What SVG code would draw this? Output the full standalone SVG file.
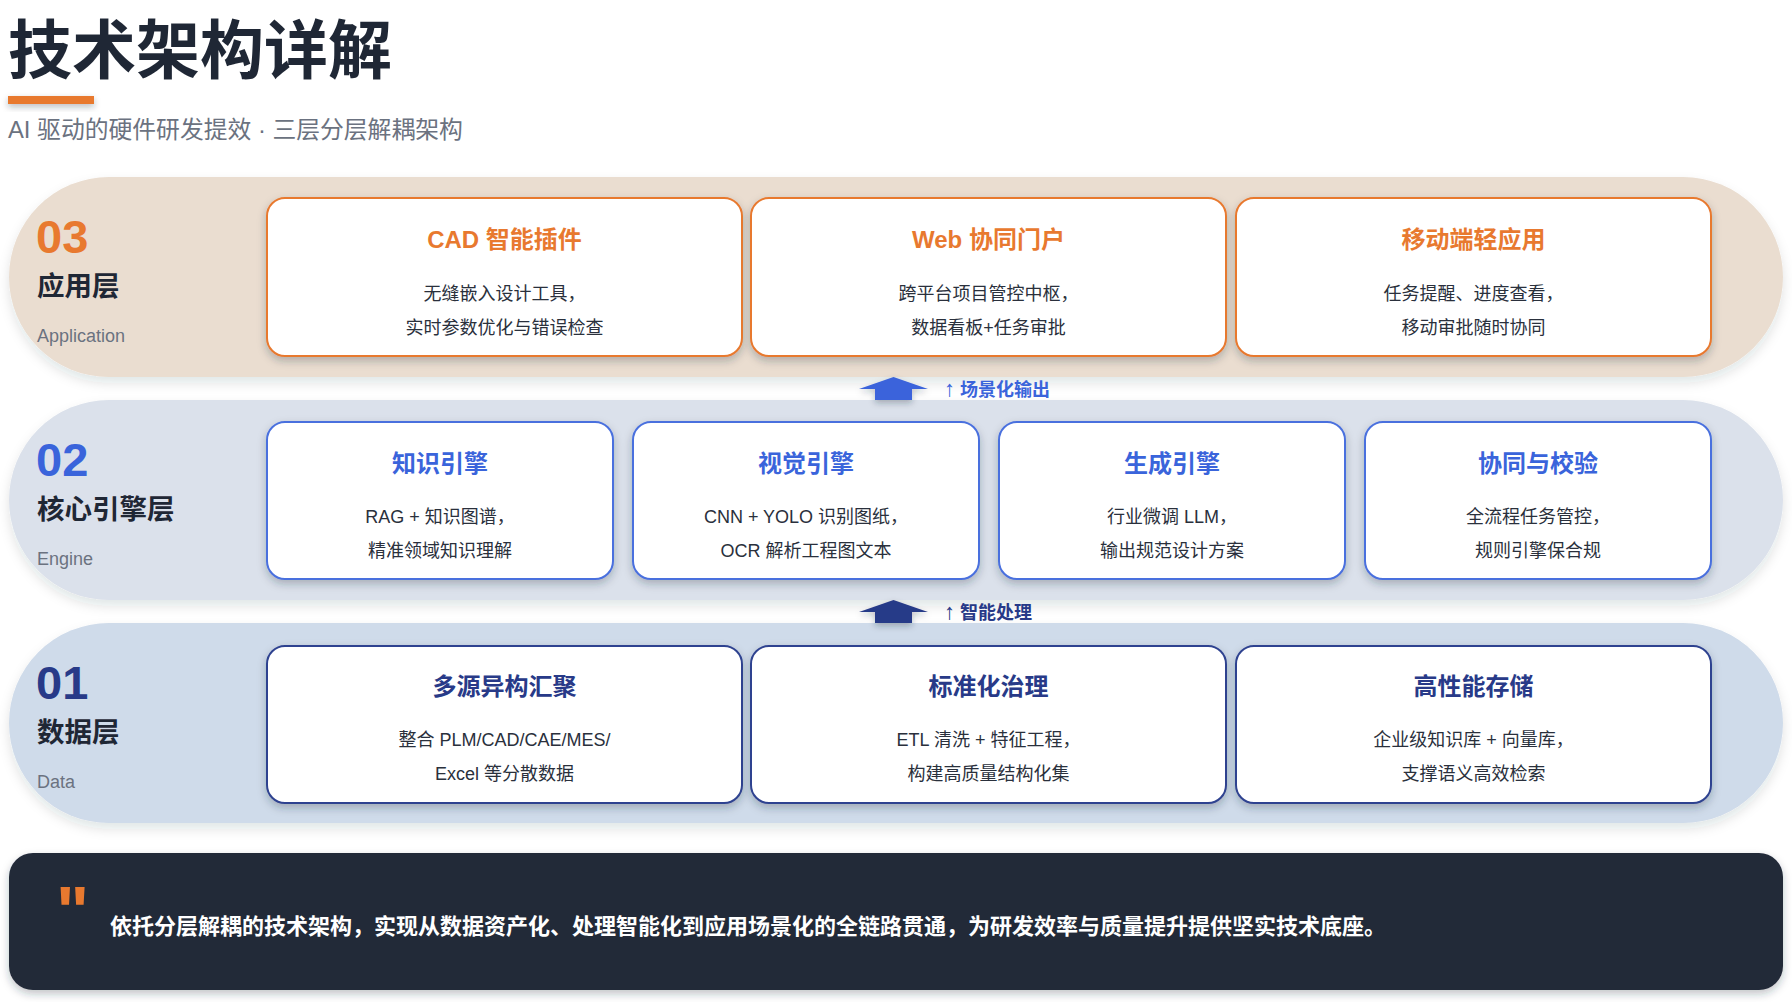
<svg xmlns="http://www.w3.org/2000/svg" width="1792" height="1002" viewBox="0 0 1792 1002">
<defs>
<filter id="bandShadow" x="-5%" y="-20%" width="110%" height="150%">
<feDropShadow dx="0" dy="6" stdDeviation="6" flood-color="#1f2937" flood-opacity="0.12"/>
</filter>
<filter id="cardShadow" x="-10%" y="-10%" width="120%" height="130%">
<feDropShadow dx="0" dy="4" stdDeviation="4" flood-color="#1f2937" flood-opacity="0.28"/>
</filter>
<filter id="smallShadow" x="-20%" y="-50%" width="140%" height="250%">
<feDropShadow dx="0" dy="3" stdDeviation="3" flood-color="#1f2937" flood-opacity="0.3"/>
</filter>
<style>
text{font-family:"Liberation Sans","Noto Sans CJK SC",sans-serif;}
.title{font-size:64px;font-weight:700;fill:#1f2735;}
.subtitle{font-size:23.8px;fill:#6b7280;}
.num{font-size:47px;font-weight:700;}
.lname{font-size:27.5px;font-weight:700;fill:#1f2735;}
.lsub{font-size:18px;fill:#6b7280;}
.card{fill:#ffffff;stroke-width:2;}
.ctitle{font-size:24px;font-weight:700;text-anchor:middle;}
.cdesc{font-size:18px;fill:#2a303c;text-anchor:middle;}
.flow{font-size:18px;font-weight:700;}
.arr{font-size:22px;}
.orange{fill:#e8792f;}
.blue{fill:#3a64db;}
.navy{fill:#283a88;}
.so{stroke:#e8792f;}
.sb{stroke:#4a70de;}
.sn{stroke:#2f4390;}
</style>
</defs>
<rect width="1792" height="1002" fill="#ffffff"/>

<g id="header">
<text class="title" x="8" y="73">技术架构详解</text>
<rect x="8" y="96" width="86" height="8" fill="#e8792f" filter="url(#smallShadow)"/>
<text class="subtitle" x="8" y="138">AI 驱动的硬件研发提效 · 三层分层解耦架构</text>
</g>

<g id="layer-03">
<rect x="9" y="177" width="1774" height="200" rx="100" fill="#eaddd0" filter="url(#bandShadow)"/>
<text class="num orange" x="36" y="253">03</text>
<text class="lname" x="37" y="296">应用层</text>
<text class="lsub" x="37" y="342">Application</text>
</g>
<g id="node-cad">
<rect class="card so" x="267" y="198" width="475" height="158" rx="18" filter="url(#cardShadow)"/>
<text class="ctitle orange" x="504.5" y="248">CAD 智能插件</text>
<text class="cdesc" x="504.5" y="300">无缝嵌入设计工具，</text>
<text class="cdesc" x="504.5" y="334">实时参数优化与错误检查</text>
</g>
<g id="node-web">
<rect class="card so" x="751" y="198" width="475" height="158" rx="18" filter="url(#cardShadow)"/>
<text class="ctitle orange" x="988.5" y="248">Web 协同门户</text>
<text class="cdesc" x="988.5" y="300">跨平台项目管控中枢，</text>
<text class="cdesc" x="988.5" y="334">数据看板+任务审批</text>
</g>
<g id="node-mobile">
<rect class="card so" x="1236" y="198" width="475" height="158" rx="18" filter="url(#cardShadow)"/>
<text class="ctitle orange" x="1473.5" y="248">移动端轻应用</text>
<text class="cdesc" x="1473.5" y="300">任务提醒、进度查看，</text>
<text class="cdesc" x="1473.5" y="334">移动审批随时协同</text>
</g>

<g id="layer-02">
<rect x="9" y="400" width="1774" height="200" rx="100" fill="#dbe1eb" filter="url(#bandShadow)"/>
<text class="num blue" x="36" y="476">02</text>
<text class="lname" x="37" y="519">核心引擎层</text>
<text class="lsub" x="37" y="565">Engine</text>
</g>
<g id="node-knowledge">
<rect class="card sb" x="267" y="422" width="346" height="157" rx="18" filter="url(#cardShadow)"/>
<text class="ctitle blue" x="440" y="472">知识引擎</text>
<text class="cdesc" x="440" y="523">RAG + 知识图谱，</text>
<text class="cdesc" x="440" y="557">精准领域知识理解</text>
</g>
<g id="node-vision">
<rect class="card sb" x="633" y="422" width="346" height="157" rx="18" filter="url(#cardShadow)"/>
<text class="ctitle blue" x="806" y="472">视觉引擎</text>
<text class="cdesc" x="806" y="523">CNN + YOLO 识别图纸，</text>
<text class="cdesc" x="806" y="557">OCR 解析工程图文本</text>
</g>
<g id="node-generation">
<rect class="card sb" x="999" y="422" width="346" height="157" rx="18" filter="url(#cardShadow)"/>
<text class="ctitle blue" x="1172" y="472">生成引擎</text>
<text class="cdesc" x="1172" y="523">行业微调 LLM，</text>
<text class="cdesc" x="1172" y="557">输出规范设计方案</text>
</g>
<g id="node-collab">
<rect class="card sb" x="1365" y="422" width="346" height="157" rx="18" filter="url(#cardShadow)"/>
<text class="ctitle blue" x="1538" y="472">协同与校验</text>
<text class="cdesc" x="1538" y="523">全流程任务管控，</text>
<text class="cdesc" x="1538" y="557">规则引擎保合规</text>
</g>

<g id="layer-01">
<rect x="9" y="623" width="1774" height="200" rx="100" fill="#cfdbea" filter="url(#bandShadow)"/>
<text class="num navy" x="36" y="699">01</text>
<text class="lname" x="37" y="742">数据层</text>
<text class="lsub" x="37" y="788">Data</text>
</g>
<g id="node-multisource">
<rect class="card sn" x="267" y="646" width="475" height="157" rx="18" filter="url(#cardShadow)"/>
<text class="ctitle navy" x="504.5" y="695">多源异构汇聚</text>
<text class="cdesc" x="504.5" y="746">整合 PLM/CAD/CAE/MES/</text>
<text class="cdesc" x="504.5" y="780">Excel 等分散数据</text>
</g>
<g id="node-governance">
<rect class="card sn" x="751" y="646" width="475" height="157" rx="18" filter="url(#cardShadow)"/>
<text class="ctitle navy" x="988.5" y="695">标准化治理</text>
<text class="cdesc" x="988.5" y="746">ETL 清洗 + 特征工程，</text>
<text class="cdesc" x="988.5" y="780">构建高质量结构化集</text>
</g>
<g id="node-storage">
<rect class="card sn" x="1236" y="646" width="475" height="157" rx="18" filter="url(#cardShadow)"/>
<text class="ctitle navy" x="1473.5" y="695">高性能存储</text>
<text class="cdesc" x="1473.5" y="746">企业级知识库 + 向量库，</text>
<text class="cdesc" x="1473.5" y="780">支撑语义高效检索</text>
</g>

<g id="connectors">
<path d="M893.5,377 L928,389 L912,389 L912,400 L875,400 L875,389 L859,389 Z" fill="#3a64db" filter="url(#smallShadow)"/>
<text class="flow blue" x="944" y="396"><tspan class="arr">↑</tspan> 场景化输出</text>
<path d="M893.5,600 L928,612 L912,612 L912,623 L875,623 L875,612 L859,612 Z" fill="#283a88" filter="url(#smallShadow)"/>
<text class="flow navy" x="944" y="619"><tspan class="arr">↑</tspan> 智能处理</text>
</g>

<g id="summary">
<rect x="9" y="853" width="1774" height="137" rx="24" fill="#222938" filter="url(#cardShadow)"/>
<text x="56" y="936" font-size="70" font-weight="700" fill="#e8792f">"</text>
<text x="110" y="934" font-size="22" font-weight="700" fill="#ffffff">依托分层解耦的技术架构，实现从数据资产化、处理智能化到应用场景化的全链路贯通，为研发效率与质量提升提供坚实技术底座。</text>
</g>
</svg>
